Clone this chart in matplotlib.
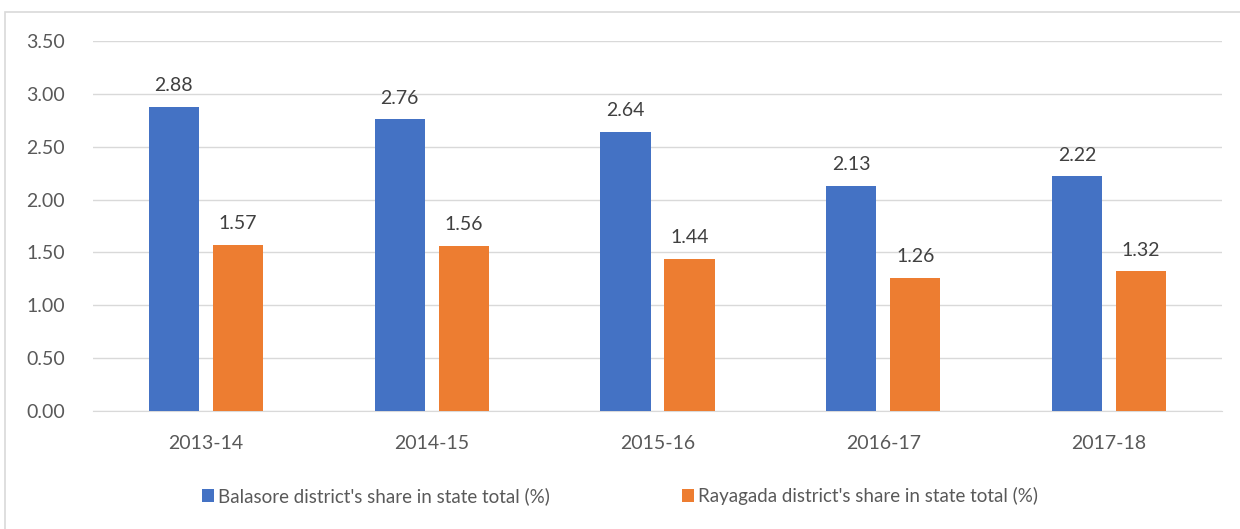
import numpy as np
import matplotlib.pyplot as plt
from matplotlib.patches import Rectangle

years = ['2013-14', '2014-15', '2015-16', '2016-17', '2017-18']
balasore = [2.88, 2.76, 2.64, 2.13, 2.22]
rayagada = [1.57, 1.56, 1.44, 1.26, 1.32]
labels = ["Balasore district's share in state total (%)",
          "Rayagada district's share in state total (%)"]

plt.rcParams['font.family'] = ['Lato', 'DejaVu Sans']

fig = plt.figure(figsize=(12.4, 5.29), dpi=100)
ax = fig.add_axes([93 / 1240, 1 - 411 / 529, (1222 - 93) / 1240, (411 - 41) / 529])

x = np.arange(len(years))
w = 0.222
off = 0.142
b1 = ax.bar(x - off, balasore, w, color='#4472C4', label=labels[0], zorder=3)
b2 = ax.bar(x + off, rayagada, w, color='#ED7D31', label=labels[1], zorder=3)

for bars, vals in [(b1, balasore), (b2, rayagada)]:
    for b, v in zip(bars, vals):
        ax.text(b.get_x() + b.get_width() / 2, v + 0.12, f'{v:.2f}',
                ha='center', va='bottom', fontsize=14, color='#404040')

ax.set_xlim(-0.5, 4.5)
ax.set_ylim(0, 3.5)
ax.set_yticks(np.arange(0, 3.51, 0.5))
ax.set_yticklabels([f'{v:.2f}' for v in np.arange(0, 3.51, 0.5)])
ax.set_xticks(x)
ax.set_xticklabels(years)
ax.tick_params(axis='both', length=0, labelsize=14, labelcolor='#595959')
ax.tick_params(axis='y', pad=20)
ax.tick_params(axis='x', pad=17)
ax.grid(axis='y', color='#D9D9D9', linewidth=1, zorder=0)
for s in ['top', 'right', 'left']:
    ax.spines[s].set_visible(False)
ax.spines['bottom'].set_color('#D9D9D9')

leg = fig.legend(loc='center', bbox_to_anchor=(0.5, 1 - 496 / 529), ncol=2,
                 frameon=False, fontsize=13.5, handlelength=0.65, handleheight=0.65,
                 handletextpad=0.25, columnspacing=7.0)
for t in leg.get_texts():
    t.set_color('#595959')

# outer chart border (partially cropped at the top)
fig.patches.append(Rectangle((5 / 1240, -0.01), 1.02, 1 - 12 / 529 + 0.01,
                             transform=fig.transFigure, fill=False,
                             edgecolor='#D9D9D9', linewidth=1.2))

fig.savefig('out.png', dpi=100)
